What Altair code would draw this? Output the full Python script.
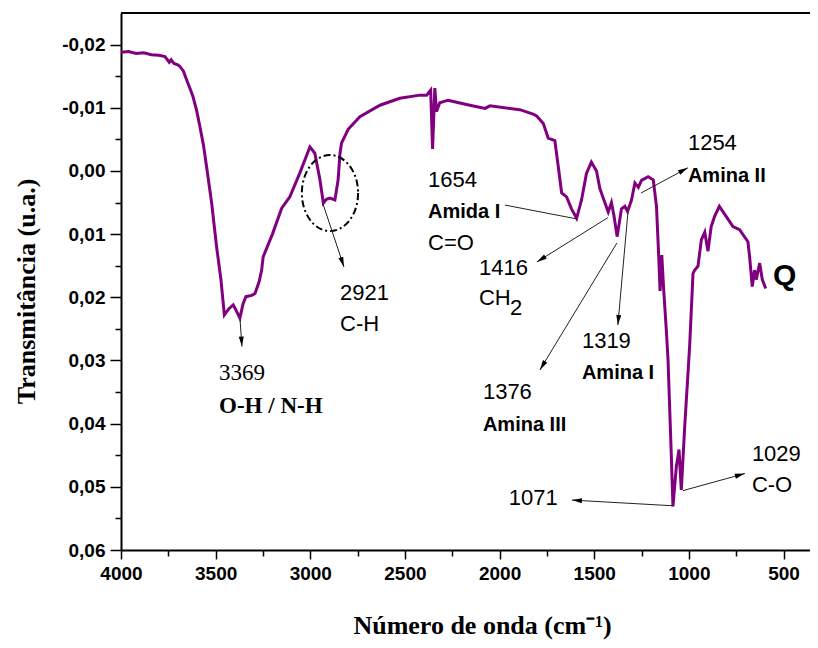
import math
import altair as alt
import pandas as pd

# ---------------- spectrum ----------------
wavenumber = [4000, 3960, 3920, 3880, 3840, 3800, 3768, 3755, 3745, 3735, 3720, 3700, 3688, 3670,
              3653, 3635, 3620, 3600, 3583, 3565, 3548, 3521, 3495, 3472, 3454, 3430, 3407, 3390,
              3372, 3355, 3340, 3310, 3292, 3270, 3257, 3249, 3200, 3151, 3108, 3055, 3002, 2976,
              2949, 2931, 2915, 2896, 2870, 2853, 2843, 2835, 2800, 2738, 2632, 2527, 2421, 2385,
              2364, 2354, 2342, 2333, 2316, 2272, 2245, 2157, 2077, 2051, 1893, 1823, 1804, 1769,
              1743, 1708, 1690, 1672, 1646, 1620, 1593, 1567, 1541, 1515, 1488, 1470, 1444, 1426,
              1409, 1396, 1379, 1356, 1338, 1324, 1303, 1285, 1267, 1250, 1215, 1188, 1171, 1160,
              1152, 1143, 1133, 1119, 1110, 1092, 1084, 1066, 1052, 1040, 1022, 996, 978, 969,
              952, 934, 916, 899, 882, 864, 839, 803, 767, 732, 688, 679, 665, 653, 644, 626, 612, 594]
transmittance = [-0.0188, -0.0189, -0.0186, -0.0187, -0.0184, -0.0183, -0.0181, -0.0176, -0.0172,
                 -0.0176, -0.0170, -0.0168, -0.0165, -0.0158, -0.0144, -0.0130, -0.0118, -0.0095,
                 -0.0070, -0.0042, -0.0007, 0.0051, 0.0120, 0.0172, 0.0228, 0.0218, 0.0212, 0.0222,
                 0.0233, 0.0210, 0.0199, 0.0197, 0.0194, 0.0175, 0.0157, 0.0136, 0.0100, 0.0059,
                 0.0041, 0.0003, -0.0038, -0.0028, 0.0014, 0.0051, 0.0045, 0.0043, 0.0046, 0.0014,
                 -0.0028, -0.0044, -0.0066, -0.0086, -0.0104, -0.0115, -0.0120, -0.0120, -0.0128,
                 -0.0035, -0.0131, -0.0094, -0.0108, -0.0112, -0.0110, -0.0104, -0.0099, -0.0103,
                 -0.0097, -0.0090, -0.0087, -0.0075, -0.0052, -0.0048, -0.0007, 0.0035, 0.0041,
                 0.0060, 0.0075, 0.0046, 0.0004, -0.0014, 0.0000, 0.0028, 0.0050, 0.0065, 0.0050,
                 0.0070, 0.0104, 0.0060, 0.0056, 0.0064, 0.0046, 0.0019, 0.0026, 0.0015, 0.0009,
                 0.0014, 0.0056, 0.0130, 0.0190, 0.0133, 0.0188, 0.0252, 0.0299, 0.0457, 0.0531,
                 0.0468, 0.0441, 0.0505, 0.0405, 0.0278, 0.0162, 0.0157, 0.0151, 0.0109, 0.0097,
                 0.0127, 0.0088, 0.0072, 0.0056, 0.0072, 0.0088, 0.0093, 0.0112, 0.0136, 0.0183,
                 0.0157, 0.0172, 0.0146, 0.0172, 0.0186]

# ---------------- axes ----------------
x_domain = [4000, 360]
y_domain = [-0.025, 0.06]
x_tick_values = [4000, 3750, 3500, 3250, 3000, 2750, 2500, 2250, 2000, 1750, 1500, 1250, 1000, 750, 500]
y_tick_values = [-0.02, -0.015, -0.01, -0.005, 0.0, 0.005, 0.01, 0.015, 0.02, 0.025, 0.03,
                 0.035, 0.04, 0.045, 0.05, 0.055, 0.06]

# ---------------- annotations ----------------
label_text = ["3369", "O-H / N-H", "2921", "C-H", "1654", "Amida I", "C=O", "1416", "CH", "2",
              "1254", "Amina II", "1319", "Amina I", "1376", "Amina III", "1029", "C-O", "1071", "Q"]
label_wn = [3482, 3482, 2843, 2843, 2378, 2378, 2378, 2109, 2109, 1945,
            1005, 1005, 1565, 1565, 2088, 2088, 667, 667, 1951, 556]
label_t = [0.0320, 0.0372, 0.0193, 0.0242, 0.0014, 0.0065, 0.0114, 0.0153, 0.0201, 0.0217,
           -0.0044, 0.0008, 0.0269, 0.0320, 0.0350, 0.0402, 0.0448, 0.0497, 0.0517, 0.0166]
label_style = ["serif", "serifbold", "num", "num", "num", "bold", "num", "num", "num", "num",
               "num", "bold", "num", "bold", "num", "bold", "num", "num", "num", "big"]

arrow_wn1 = [3371, 2933, 1972, 1428, 1380, 1322, 1253, 1084, 1031]
arrow_t1 = [0.0236, 0.0052, 0.0054, 0.0074, 0.0114, 0.0066, 0.0035, 0.0530, 0.0506]
arrow_wn2 = [3361, 2822, 1591, 1803, 1787, 1375, 1005, 1618, 704]
arrow_t2 = [0.0278, 0.0152, 0.0076, 0.0144, 0.0315, 0.0244, -0.0005, 0.0521, 0.0479]
arrow_head = [True, True, False, True, True, True, True, True, True]

circle_wn = [2896]
circle_t = [0.0035]

W, H = 689, 537

# arrowhead orientation (screen space) from the scale factors
kx = W / (x_domain[0] - x_domain[1])
ky = H / (y_domain[1] - y_domain[0])
angles = []
for a, b, c, d in zip(arrow_wn1, arrow_t1, arrow_wn2, arrow_t2):
    dx = -(c - a) * kx
    dy = (d - b) * ky
    angles.append(math.degrees(math.atan2(dx, -dy)) % 360)

curve = pd.DataFrame({"wn": wavenumber, "t": transmittance})
labels = pd.DataFrame({"wn": label_wn, "t": label_t, "label": label_text, "style": label_style})
arrows = pd.DataFrame({"wn": arrow_wn1, "t": arrow_t1, "wn2": arrow_wn2, "t2": arrow_t2,
                       "head": arrow_head, "angle": angles})
heads = arrows[arrows["head"]].copy()
heads["wn"] = heads["wn2"]
heads["t"] = heads["t2"]
circle = pd.DataFrame({"wn": circle_wn, "t": circle_t})

x_axis = alt.Axis(
    values=x_tick_values,
    labelExpr="round(datum.value/250) % 2 == 1 ? '' : format(datum.value, 'd')",
    tickSize={"condition": {"test": "round(datum.value/250) % 2 == 1", "value": 6}, "value": 9},
    labelFont="Liberation Sans", labelFontWeight="bold", labelFontSize=19, labelColor="black",
    labelPadding=5, labelFlush=False, labelOverlap=False,
    title="Número de onda (cm\u207b\u00b9)", titleFont="Liberation Serif", titleFontWeight="bold",
    titleFontSize=26, titleColor="black", titleX=361, titleY=83, titleAlign="center",
    titleBaseline="alphabetic", titleAnchor="start",
)
y_axis = alt.Axis(
    values=y_tick_values,
    labelExpr="abs(round(datum.value*200)) % 2 == 1 ? '' : "
              "((datum.value < -0.0001 ? '-' : '') + replace(format(abs(datum.value), '.2f'), '.', ','))",
    tickSize={"condition": {"test": "abs(round(datum.value*200)) % 2 == 1", "value": 6}, "value": 11},
    labelFont="Liberation Sans", labelFontWeight="bold", labelFontSize=19, labelColor="black",
    labelPadding=5, labelFlush=False, labelOverlap=False,
    title="Transmitância (u.a.)", titleFont="Liberation Serif", titleFontWeight="bold",
    titleFontSize=26, titleColor="black", titleX=-95, titleY=278, titleAngle=270,
    titleAlign="center", titleBaseline="middle", titleAnchor="start",
)

X = alt.X("wn:Q", scale=alt.Scale(domain=x_domain, nice=False, zero=False), axis=x_axis)
Y = alt.Y("t:Q", scale=alt.Scale(domain=y_domain, reverse=True, nice=False, zero=False), axis=y_axis)

line = alt.Chart(curve).mark_line(color="#800080", strokeWidth=3, clip=True).encode(
    x=X, y=Y, order=alt.Order("wn:Q", sort="descending"))

top_border = alt.Chart(circle).mark_rule(color="black", strokeWidth=2).encode(
    x=alt.value(0), x2=alt.value(W), y=alt.value(0))

ellipse_path = ("M0.74,0 C0.74,0.5523 0.4087,1 0,1 C-0.4087,1 -0.74,0.5523 -0.74,0 "
                "C-0.74,-0.5523 -0.4087,-1 0,-1 C0.4087,-1 0.74,-0.5523 0.74,0 Z")
ellipse = alt.Chart(circle).mark_point(
    shape=ellipse_path, size=5776, filled=False, color="black", strokeWidth=2,
    strokeDash=[7, 3, 2, 3], opacity=1).encode(x=X, y=Y)

rules = alt.Chart(arrows).mark_rule(color="#222222", strokeWidth=1).encode(
    x=X, y=Y, x2="wn2:Q", y2="t2:Q")

head_path = "M0,0 L-0.6,2.4 L0.6,2.4 Z"
arrowheads = alt.Chart(heads).mark_point(
    shape=head_path, size=70, filled=True, color="black", opacity=1, strokeWidth=0).encode(
    x=X, y=Y, angle=alt.Angle("angle:Q", scale=None))


def text_layer(style, font, size, weight):
    return alt.Chart(labels).transform_filter(alt.datum.style == style).mark_text(
        align="left", baseline="middle", font=font, fontSize=size, fontWeight=weight,
        color="black").encode(x=X, y=Y, text="label:N")


texts = [
    text_layer("serif", "Liberation Serif", 23, "normal"),
    text_layer("serifbold", "Liberation Serif", 23, "bold"),
    text_layer("num", "Liberation Sans", 22, "normal"),
    text_layer("bold", "Liberation Sans", 20, "bold"),
    text_layer("big", "Liberation Sans", 30, "bold"),
]

chart = alt.layer(line, top_border, ellipse, rules, arrowheads, *texts).properties(
    width=W, height=H,
    autosize=alt.AutoSizeParams(type="none"),
    padding={"left": 113, "top": 5, "right": 0, "bottom": 95},
).configure_view(stroke=None).configure_axis(
    grid=False, domainColor="black", domainWidth=2, tickColor="black", tickWidth=1.5,
)

chart.save("out.html", embed_options={"renderer": "svg", "actions": False})
